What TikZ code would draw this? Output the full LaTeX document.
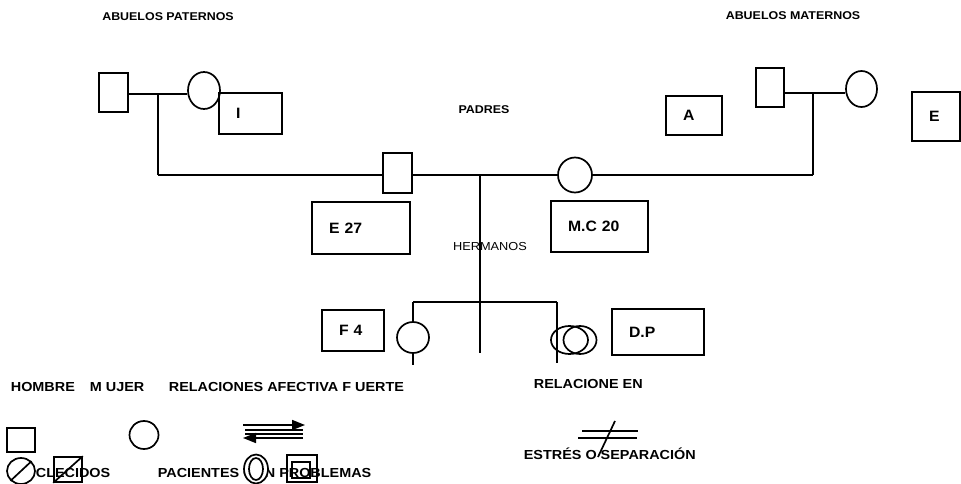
\documentclass[tikz,border=0pt]{standalone}
\usepackage{fontspec}
\setmainfont[FakeStretch=1.1]{Liberation Sans}
\newfontfamily\boxfont[FakeStretch=1.05]{Liberation Sans}
\usetikzlibrary{shapes.geometric,arrows.meta}

\begin{document}
\begin{tikzpicture}[x=1pt,y=-1pt,line width=1.7pt,
    lbl/.style={font=\bfseries\fontsize{11.3}{13}\selectfont,inner sep=0pt},
    leg/.style={font=\bfseries\fontsize{13.1}{15}\selectfont,anchor=west,inner sep=0pt},
    man/.style={draw,rectangle,inner sep=0pt},
    woman/.style={draw,ellipse,inner sep=0pt},
    infobox/.style={draw,rectangle,inner ysep=0pt,inner xsep=17pt,align=left,
      text width=#1,font=\boxfont\bfseries\fontsize{15}{17}\selectfont}]
      \useasboundingbox (0,0) rectangle (961,484);
      \node[lbl] (abpat) at (168,17) {ABUELOS PATERNOS};
      \node[lbl] (abmat) at (793,16) {ABUELOS MATERNOS};
      \node[lbl] (padres) at (484,110) {PADRES};
      \node[lbl,font=\fontsize{11.6}{13}\selectfont] (herm) at (490,247) {HERMANOS};

      \node[man,minimum width=29,minimum height=39] (pgf) at (113.5,92.5) {};
      \node[woman,minimum width=32,minimum height=37] (pgm) at (204,90.5) {};
      \node[man,minimum width=28,minimum height=39] (mgf) at (770,87.5) {};
      \node[woman,minimum width=31,minimum height=36] (mgm) at (861.5,89) {};
      \node[man,minimum width=29,minimum height=40] (dad) at (397.5,173) {};
      \node[woman,minimum width=34,minimum height=35] (mom) at (575,175) {};
      \node[woman,minimum width=32,minimum height=31] (sis) at (413,337.5) {};
      \node[woman,minimum width=37,minimum height=28] (dp) at (569.5,340) {};
      \node[woman,minimum width=33,minimum height=28] (dpin) at (580,340) {};

      \node[infobox=29,minimum height=41] (boxi) at (250.5,113.5) {I};
      \node[infobox=22,minimum height=39] (boxa) at (694,115.5) {A};
      \node[infobox=14,minimum height=49] (boxe) at (936,116.5) {E};
      \node[infobox=64,minimum height=52] (boxdad) at (361,228) {E 27};
      \node[infobox=63,minimum height=51] (boxmom) at (599.5,226.5) {M.C 20};
      \node[infobox=28,minimum height=41] (boxsis) at (353,330.5) {F 4};
      \node[infobox=58,minimum height=46] (boxdp) at (658,332) {D.P};

      \coordinate (pgc) at (158,94);
      \coordinate (mgc) at (813,93);
      \coordinate (pl) at (158,175);
      \coordinate (pr) at (813,175);
      \coordinate (pc) at (480,175);
      \coordinate (hb) at (480,353);
      \coordinate (sl) at (413,302);
      \coordinate (sr) at (557,302);
      \coordinate (sisb) at (413,365);
      \coordinate (dpb) at (557,363);
      \begin{scope}[-,line width=1.5pt]
        \draw (pgf.east |- pgc) to (pgm.west |- pgc);
        \draw (mgf.east |- mgc) to (mgm.west |- mgc);
        \draw (pgc) to (pl);
        \draw (mgc) to (pr);
        \draw (pl) to (dad.west |- pl);
        \draw (dad.east |- pl) to (mom);
        \draw (mom) to (pr);
        \draw (pc) to (hb);
        \draw (sl) to (sr);
        \draw (sl) to (sis);
        \draw (sis) to (sisb);
        \draw (sr) to (dpb);
      \end{scope}

      \node[leg] (hombre) at (10,387) {HOMBRE};
      \node[leg] (mujer) at (89,387) {M UJER};
      \node[leg] (afect) at (168,387) {RELACIONES AFECTIVA F UERTE};
      \node[leg] (relac) at (533,384) {RELACIONE EN};
      \node[leg] (estres) at (523,454) {ESTRÉS O SEPARACIÓN};
      \node[leg] (fallec) at (35,473) {CLECIDOS};
      \node[leg] (pacien) at (157,473) {PACIENTES CON PROBLEMAS};

      \node[man,minimum width=28,minimum height=24] (lman) at (21,440) {};
      \node[woman,minimum width=29,minimum height=28] (lwoman) at (144,435) {};
      \node[woman,minimum width=28,minimum height=26] (ldead) at (21,471) {};
      \draw (ldead.south west) -- (ldead.north east);
      \node[man,minimum width=28,minimum height=25] (ldeadm) at (68,469.5) {};
      \draw (ldeadm.south west) -- (ldeadm.north east);
      \node[woman,fill=white,minimum width=24,minimum height=29] (lpat) at (256,469) {};
      \node[woman,minimum width=14,minimum height=22] (lpatin) at (256,469) {};
      \node[man,minimum width=30,minimum height=27] (lprob) at (302,468.5) {};
      \node[man,minimum width=18,minimum height=16] (lprobin) at (301,470) {};

      \draw[-{Triangle[length=13pt,width=10pt]}] (243,425) -- (305,425);
      \draw[line width=1.1pt] (245,430) -- (303,430);
      \draw[line width=1.1pt] (245,434) -- (303,434);
      \draw[-{Triangle[length=13pt,width=10pt]}] (303,438) -- (243,438);

      \draw (582,431) -- (638,431);
      \draw (578,438) -- (637,438);
      \draw (615,421) -- (598,457);
    \end{tikzpicture}
\end{document}
